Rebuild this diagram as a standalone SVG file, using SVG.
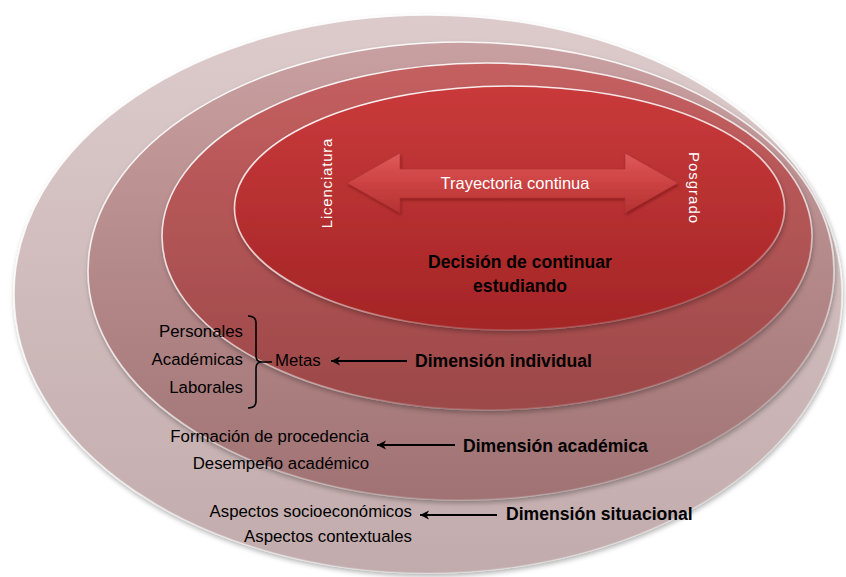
<svg xmlns="http://www.w3.org/2000/svg" width="846" height="577" viewBox="0 0 846 577">
  <defs>
    <linearGradient id="g1" x1="0" y1="0" x2="0" y2="1">
      <stop offset="0" stop-color="#ddcbcb"/>
      <stop offset="1" stop-color="#c2abac"/>
    </linearGradient>
    <linearGradient id="g2" x1="0" y1="0" x2="0" y2="1">
      <stop offset="0" stop-color="#c9a0a1"/>
      <stop offset="1" stop-color="#a07273"/>
    </linearGradient>
    <linearGradient id="g3" x1="0" y1="0" x2="0" y2="1">
      <stop offset="0" stop-color="#c55f60"/>
      <stop offset="1" stop-color="#9c4849"/>
    </linearGradient>
    <linearGradient id="g4" x1="0" y1="0" x2="0" y2="1">
      <stop offset="0" stop-color="#c93a3b"/>
      <stop offset="1" stop-color="#a42526"/>
    </linearGradient>
    <linearGradient id="garrow" x1="0" y1="0" x2="0" y2="1">
      <stop offset="0" stop-color="#e05a5a"/>
      <stop offset="0.5" stop-color="#cc4242"/>
      <stop offset="1" stop-color="#b53232"/>
    </linearGradient>
    <linearGradient id="rim" x1="0" y1="0" x2="0.4" y2="1">
      <stop offset="0" stop-color="#ffffff" stop-opacity="0.95"/>
      <stop offset="0.7" stop-color="#ffffff" stop-opacity="0.7"/>
      <stop offset="1" stop-color="#ffffff" stop-opacity="0.15"/>
    </linearGradient>
    <filter id="shadow" x="-10%" y="-10%" width="120%" height="125%">
      <feDropShadow dx="1" dy="3" stdDeviation="2.5" flood-color="#000000" flood-opacity="0.3"/>
    </filter>
    <filter id="ashadow" x="-10%" y="-20%" width="120%" height="150%">
      <feDropShadow dx="1" dy="2" stdDeviation="1.5" flood-color="#5a0000" flood-opacity="0.45"/>
    </filter>
    <marker id="ah" viewBox="0 -5 10 10" refX="9" refY="0" markerWidth="10" markerHeight="10" markerUnits="userSpaceOnUse" orient="auto">
      <path d="M0,-4.5 L9,0 L0,4.5 L2.5,0 Z" fill="#000000"/>
    </marker>
    <style>
      .ring { stroke: url(#rim); stroke-width: 1.6; filter: url(#shadow); }
      .t { font-family: "Liberation Sans", Arial, sans-serif; font-size: 16.8px; fill: #000000; }
      .b { font-family: "Liberation Sans", Arial, sans-serif; font-size: 17.6px; font-weight: bold; fill: #000000; }
      .w { font-family: "Liberation Sans", Arial, sans-serif; font-size: 15px; fill: #ffffff; letter-spacing: 0.8px; }
      .conn { stroke: #000000; stroke-width: 1.8; fill: none; }
    </style>
  </defs>

  <rect width="846" height="577" fill="#ffffff"/>

  <g id="ring-situacional">
    <ellipse class="ring" cx="428" cy="294" rx="414" ry="279" fill="url(#g1)"/>
  </g>
  <g id="ring-academica">
    <ellipse class="ring" cx="461" cy="271" rx="373" ry="229" fill="url(#g2)"/>
  </g>
  <g id="ring-individual">
    <ellipse class="ring" cx="487" cy="236.5" rx="325" ry="173.5" fill="url(#g3)"/>
  </g>
  <g id="ring-decision">
    <ellipse class="ring" cx="509.5" cy="208" rx="275" ry="122" fill="url(#g4)"/>
  </g>

  <g id="arrow-trayectoria">
    <path d="M347,183 L400,153 L400,169 L625,169 L625,153 L678,183 L625,213 L625,198 L400,198 L400,213 Z" fill="url(#garrow)" stroke="#b03030" stroke-width="0.6" filter="url(#ashadow)"/>
    <text x="515" y="188.5" text-anchor="middle" font-family="Liberation Sans, Arial, sans-serif" font-size="16.5px" fill="#ffffff">Trayectoria continua</text>
  </g>

  <g id="label-licenciatura">
    <text class="w" transform="translate(332,183) rotate(-90)" text-anchor="middle">Licenciatura</text>
  </g>
  <g id="label-posgrado">
    <text class="w" transform="translate(689,188) rotate(90)" text-anchor="middle" style="letter-spacing:1px">Posgrado</text>
  </g>

  <g id="label-decision">
    <text class="b" x="520" y="268" text-anchor="middle">Decisión de continuar</text>
    <text class="b" x="520" y="292" text-anchor="middle">estudiando</text>
  </g>

  <g id="metas-list">
    <text class="t" x="243" y="337" text-anchor="end">Personales</text>
    <text class="t" x="243" y="365" text-anchor="end">Académicas</text>
    <text class="t" x="243" y="393" text-anchor="end">Laborales</text>
    <path d="M248,316 Q256,316 256,323 L256,356 Q256,362 262,362 L272,362 M262,362 Q256,362 256,368 L256,401 Q256,408 248,408" stroke="#000000" stroke-width="1.6" fill="none"/>
  </g>

  <g id="metas">
    <text class="t" x="275" y="366">Metas</text>
  </g>
  <g id="dim-individual">
    <text class="b" x="415" y="367">Dimensión individual</text>
  </g>

  <g id="academica-items">
    <text class="t" x="369" y="442" text-anchor="end">Formación de procedencia</text>
    <text class="t" x="369" y="469" text-anchor="end">Desempeño académico</text>
  </g>
  <g id="dim-academica">
    <text class="b" x="463" y="452">Dimensión académica</text>
  </g>

  <g id="situacional-items">
    <text class="t" x="412" y="517" text-anchor="end">Aspectos socioeconómicos</text>
    <text class="t" x="412" y="542" text-anchor="end">Aspectos contextuales</text>
  </g>
  <g id="dim-situacional">
    <text class="b" x="506" y="520">Dimensión situacional</text>
  </g>

  <g id="connectors">
    <line class="conn" x1="407" y1="361" x2="331" y2="361" marker-end="url(#ah)"/>
    <line class="conn" x1="455" y1="445" x2="377" y2="445" marker-end="url(#ah)"/>
    <line class="conn" x1="497" y1="515" x2="420" y2="515" marker-end="url(#ah)"/>
  </g>
</svg>
